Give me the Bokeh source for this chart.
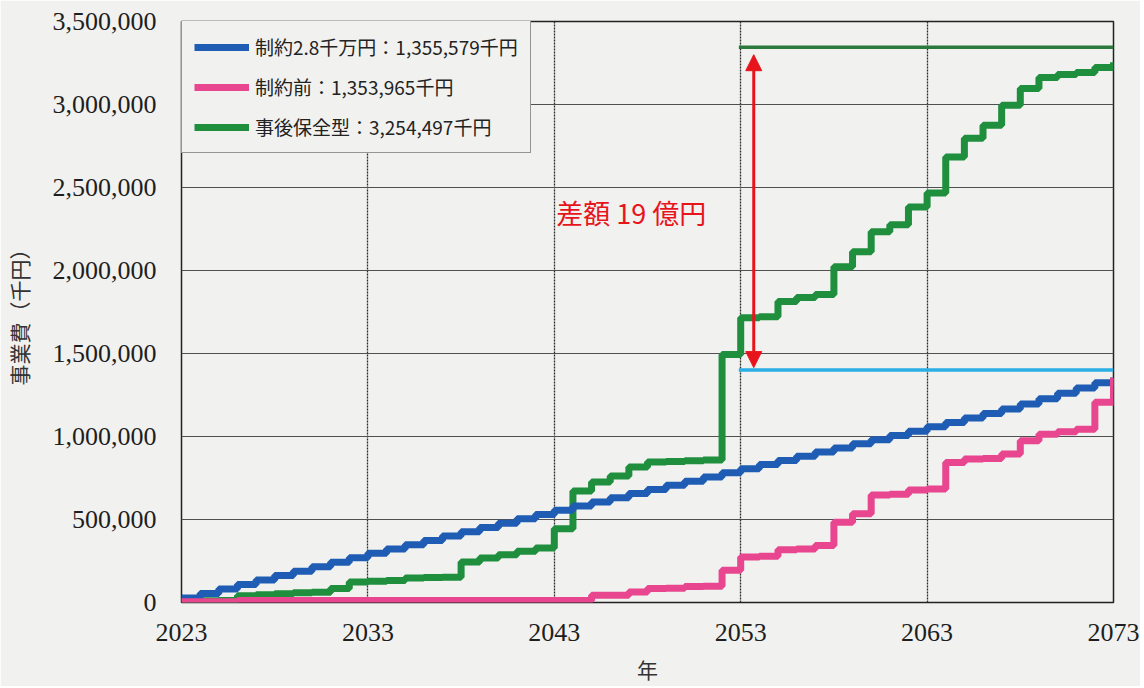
from bokeh.plotting import figure
from bokeh.models import (Legend, LegendItem, NumeralTickFormatter, FixedTicker,
                          Range1d, Arrow, NormalHead, Label)
from bokeh.embed import file_html
from bokeh.resources import INLINE

# ---------------- data ----------------
years = list(range(2023, 2074))

blue_vals = [27000, 54000, 81000, 108000, 135000, 162000, 189000, 216000, 243000, 270000,
             296000, 322000, 348000, 374000, 400000, 426000, 452000, 478000, 504000, 530000,
             556000, 581000, 606000, 631000, 656000, 681000, 706000, 731000, 756000, 781000,
             806000, 831000, 856000, 881000, 906000, 931000, 956000, 981000, 1006000, 1031000,
             1058000, 1085000, 1112000, 1139000, 1166000, 1196000, 1228000, 1260000, 1292000, 1324000,
             1355579]

pink_vals = [4000, 4000, 4000,
             12000, 12000, 12000, 12000, 12000, 12000, 12000, 12000, 12000, 12000,
             12000, 12000, 12000, 12000, 12000, 12000, 12000, 12000, 12000,
             44000, 44000, 64000, 84000, 86000, 96000, 98000, 194000, 274000, 278000,
             318000, 322000, 344000, 484000, 534000, 648000, 652000, 678000, 684000, 844000,
             864000, 868000, 894000, 974000, 1014000, 1028000, 1044000, 1206000,
             1353965]

green_vals = [8000, 10000, 12000,
              40000, 46000, 52000, 58000, 62000,
              84000,
              124000, 128000, 132000,
              148000, 150000, 152000,
              244000, 268000, 288000, 308000, 328000,
              444000,
              672000, 726000, 762000, 816000, 846000, 850000, 854000, 858000,
              1494000,
              1716000, 1722000,
              1813000, 1837000, 1855000,
              2023000, 2113000, 2233000, 2275000, 2383000, 2467000,
              2683000, 2797000, 2875000, 2995000, 3097000, 3163000, 3181000, 3193000, 3223000,
              3254497]

series_labels = ["制約2.8千万円：1,355,579千円",
                 "制約前：1,353,965千円",
                 "事後保全型：3,254,497千円"]

x_ticks = [2023, 2033, 2043, 2053, 2063, 2073]
y_ticks = [0, 500000, 1000000, 1500000, 2000000, 2500000, 3000000, 3500000]

gap_top = 3345000
gap_bottom = 1400000
gap_start = 2052.9
gap_end = 2073
arrow_x = 2053.7
gap_label = "差額 19 億円"
gap_label_x = 2043.1
gap_label_y = 2350000

# ---------------- styles ----------------
BG = "#f1f1ef"
BLUE = "#1f5db4"
PINK = "#e8478f"
GREEN = "#1f8f3e"
DARKGREEN = "#2b7a3c"
LIGHTBLUE = "#2aaee6"
RED = "#e8141c"
SERIF = "'Liberation Serif', 'Times New Roman', Times, serif"

p = figure(width=1140, height=686,
           x_range=Range1d(2023, 2073), y_range=Range1d(0, 3500000),
           output_backend="svg", toolbar_location=None,
           min_border_left=178, min_border_right=27,
           min_border_top=21, min_border_bottom=82,
           background_fill_color=BG, border_fill_color=BG)

p.outline_line_color = "#222222"
p.outline_line_width = 1.5

# grids
p.ygrid.grid_line_color = "#505050"
p.ygrid.grid_line_width = 1.2
p.xgrid.grid_line_color = "#2a2a2a"
p.xgrid.grid_line_width = 1.3
p.xgrid.grid_line_dash = "2 1"

# axes
for ax in (p.xaxis[0], p.yaxis[0]):
    ax.axis_line_color = None
    ax.major_tick_line_color = None
    ax.minor_tick_line_color = None
    ax.major_label_text_font = SERIF
    ax.major_label_text_font_size = "26px"
    ax.major_label_text_color = "#1e1e1e"
    ax.axis_label_text_font = "Noto Sans CJK JP"
    ax.axis_label_text_font_size = "21px"
    ax.axis_label_text_font_style = "normal"
    ax.axis_label_text_color = "#333333"

p.xaxis.ticker = FixedTicker(ticks=x_ticks)
p.yaxis.ticker = FixedTicker(ticks=y_ticks)
p.yaxis.formatter = NumeralTickFormatter(format="0,0")
p.xaxis.major_label_standoff = 15
p.yaxis.major_label_standoff = 19
p.xaxis.axis_label = "年"
p.yaxis.axis_label = "事業費（千円）"
p.xaxis.axis_label_standoff = 10
p.yaxis.axis_label_standoff = 16

# series (draw order: green, blue, pink)
r_green = p.step(years, green_vals, mode="after", line_color=GREEN, line_width=7)
r_blue = p.step(years, blue_vals, mode="after", line_color=BLUE, line_width=7)
r_pink = p.step(years, pink_vals, mode="after", line_color=PINK, line_width=7)

# reference lines and gap arrow
p.line([gap_start, gap_end], [gap_top, gap_top], line_color=DARKGREEN, line_width=3.5)
p.line([gap_start, gap_end], [gap_bottom, gap_bottom], line_color=LIGHTBLUE, line_width=3.5)
p.add_layout(Arrow(start=NormalHead(size=16, fill_color=RED, line_color=RED),
                   end=NormalHead(size=16, fill_color=RED, line_color=RED),
                   x_start=arrow_x, y_start=gap_bottom + 15000,
                   x_end=arrow_x, y_end=gap_top - 45000,
                   line_color=RED, line_width=3))
p.add_layout(Label(x=gap_label_x, y=gap_label_y, text=gap_label,
                   text_font="Noto Sans CJK JP", text_font_size="27px",
                   text_color=RED, text_baseline="middle", text_align="left"))

# legend
legend = Legend(items=[LegendItem(label=series_labels[0], renderers=[r_blue]),
                       LegendItem(label=series_labels[1], renderers=[r_pink]),
                       LegendItem(label=series_labels[2], renderers=[r_green])],
                location=(0, 449),
                glyph_width=55, glyph_height=20, label_height=20,
                spacing=13, padding=12, margin=0, label_standoff=6,
                border_line_color="#3a3a3a", border_line_width=1.8,
                background_fill_color=BG, background_fill_alpha=1.0,
                label_text_font="Noto Sans CJK JP", label_text_font_size="19px",
                label_text_color="#222222")
p.add_layout(legend, "center")

open("out.html", "w").write(file_html(p, INLINE))
